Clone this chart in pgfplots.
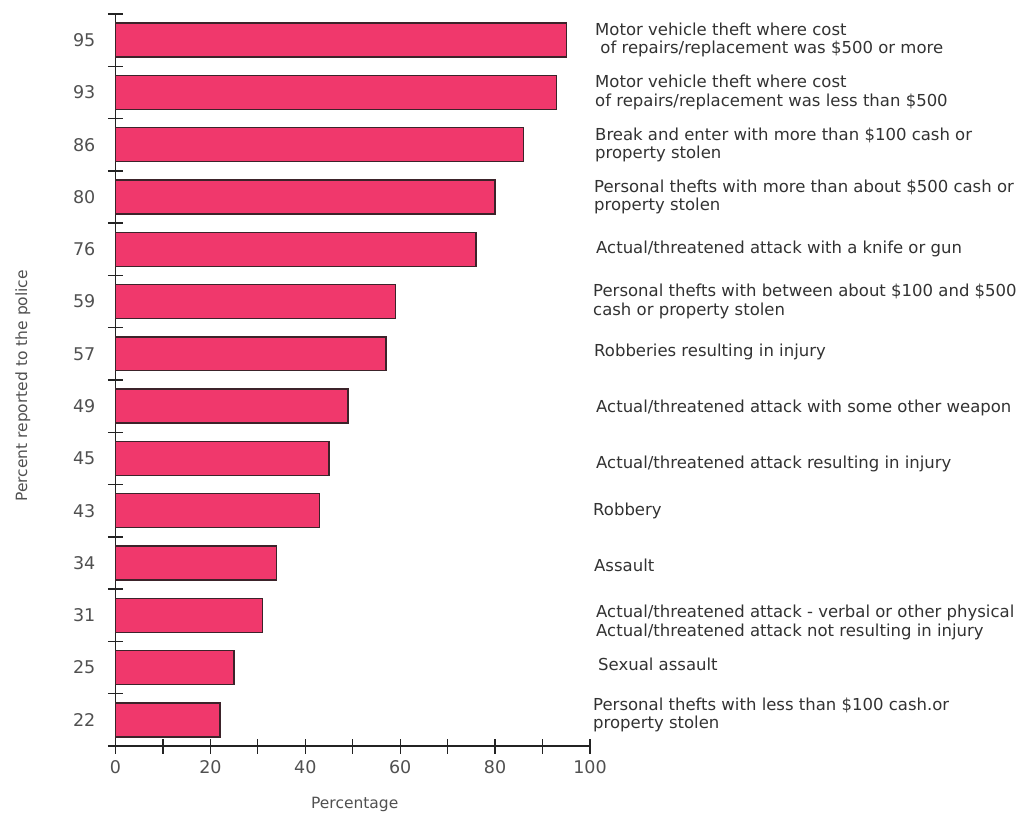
\documentclass[border=0pt]{standalone}
\usepackage{fontspec}
\setmainfont{DejaVu Sans}
\usepackage{pgfplots}
\pgfplotsset{compat=1.18}
\definecolor{barpink}{RGB}{240,56,108}
\definecolor{barline}{RGB}{60,35,42}
\definecolor{txt}{RGB}{50,50,50}
\definecolor{lbl}{RGB}{80,80,80}
\definecolor{axl}{RGB}{35,35,35}
\begin{document}
\fontsize{16.5bp}{18.5bp}\selectfont
\begin{tikzpicture}
\begin{axis}[
  name=ax,
  xbar, bar width=0.65, bar shift=0,
  scale only axis, width=474.5bp, height=732bp,
  xmin=0, xmax=100, ymin=-0.5, ymax=13.5,
  axis lines=left,
  axis line style={-, line width=1.3bp, color=axl},
  clip=false,
  xtick={0,20,...,100}, minor xtick={10,30,...,90},
  ytick={0,...,13},
  yticklabels={22,25,31,34,43,45,49,57,59,76,80,86,93,95},
  minor ytick={-0.5,0.5,...,13.5},
  tick align=center,
  major tick length=15bp, minor tick length=15bp,
  every tick/.style={line width=1.3bp, color=axl},
  major y tick style={draw=none},
  tick label style={font=\fontsize{17.5bp}{19bp}\selectfont, text=lbl},
  /pgf/number format/assume math mode=true,
  yticklabel style={xshift=-7bp},
  xticklabel style={yshift=-1bp},
  xlabel={Percentage},
  xlabel style={font=\fontsize{15.5bp}{18bp}\selectfont, text=lbl, at={(axis description cs:0.5,0)}, anchor=north, yshift=-45bp, xshift=2bp},
  ylabel={Percent reported to the police},
  ylabel style={font=\fontsize{15.5bp}{18bp}\selectfont, text=lbl, at={(axis description cs:-0.195,0.492)}, anchor=center},
]
\addplot[fill=barpink, draw=barline, line width=1.3bp] coordinates {
 (22,0) (25,1) (31,2) (34,3) (43,4) (45,5) (49,6) (57,7) (59,8) (76,9) (80,10) (86,11) (93,12) (95,13)
};
\begin{scope}[every node/.style={anchor=west, align=left, inner sep=0pt, text=txt, font=\fontsize{16.5bp}{18.5bp}\selectfont}]
\node at (axis cs:100,13) [xshift=5bp] {Motor vehicle theft where cost\\\ of repairs/replacement was \$500 or more};
\node at (axis cs:100,12) [xshift=5bp] {Motor vehicle theft where cost\\of repairs/replacement was less than \$500};
\node at (axis cs:100,11) [xshift=5bp] {Break and enter with more than \$100 cash or\\property stolen};
\node at (axis cs:100,10) [xshift=4bp] {Personal thefts with more than about \$500 cash or\\property stolen};
\node at (axis cs:100,9) [xshift=6bp] {Actual/threatened attack with a knife or gun};
\node at (axis cs:100,8) [xshift=3bp] {Personal thefts with between about \$100 and \$500\\cash or property stolen};
\node at (axis cs:100,7) [xshift=4bp, yshift=2bp] {Robberies resulting in injury};
\node at (axis cs:100,6) [xshift=6bp, yshift=-2bp] {Actual/threatened attack with some other weapon};
\node at (axis cs:100,5) [xshift=6bp, yshift=-6bp] {Actual/threatened attack resulting in injury};
\node at (axis cs:100,4) [xshift=3bp] {Robbery};
\node at (axis cs:100,3) [xshift=4bp, yshift=-2bp] {Assault};
\node at (axis cs:100,2) [xshift=6bp, yshift=-7bp] {Actual/threatened attack - verbal or other physical\\Actual/threatened attack not resulting in injury};
\node at (axis cs:100,1) [xshift=8bp, yshift=3bp] {Sexual assault};
\node at (axis cs:100,0) [xshift=3bp, yshift=5bp] {Personal thefts with less than \$100 cash.or\\property stolen};
\end{scope}
\coordinate (bl) at (rel axis cs:0,0);
\end{axis}
\pgfresetboundingbox
\path ([shift={(-115.5bp,-67bp)}]bl) rectangle ++(1025bp,813bp);
\end{tikzpicture}
\end{document}
